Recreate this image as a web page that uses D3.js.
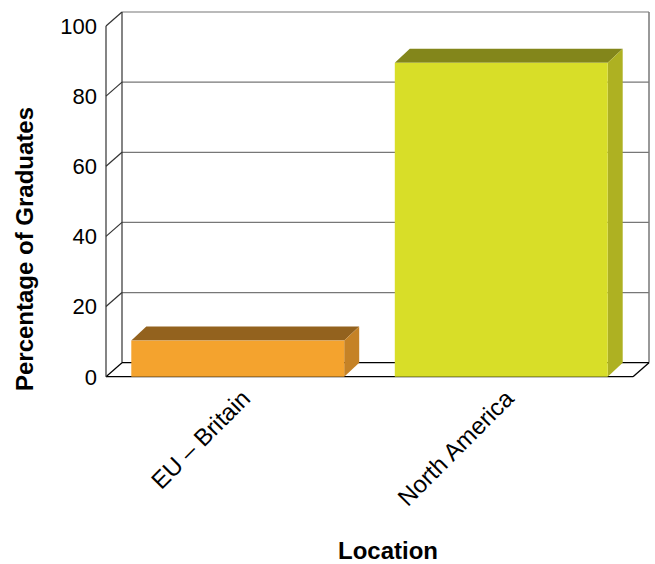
<!DOCTYPE html>
<html><head><meta charset="utf-8">
<script src="https://cdn.jsdelivr.net/npm/d3@7"></script>
<style>body{margin:0;background:#fff}svg{display:block}text{font-family:"Liberation Sans",Arial,sans-serif}</style>
</head><body>
<svg id="c" width="655" height="564"></svg>
<script>
const categories = ["EU \u2013 Britain", "North America"];
const values = [10.3, 89.5];
const yTicks = [0, 20, 40, 60, 80, 100];
const frontColors = ["#F4A32E", "#D8DE28"];
const topColors = ["#93621E", "#83861B"];
const sideColors = ["#C58226", "#AEB122"];
const yTitle = "Percentage of Graduates";
const xTitle = "Location";

(function () {
const svg = d3.select("#c");
const pLeft = 106, pRight = 633, pBottom = 376.7, pTop = 26;
const dx = 16, dy = -14;     // wall depth
const bdx = 15, bdy = -14;   // bar depth
const x = d3.scaleBand().domain(categories).range([pLeft, pRight]).paddingInner(0.192).paddingOuter(0.096);
const y = d3.scaleLinear().domain([0, 100]).range([pBottom, pTop]);

const g = svg.append("g");
yTicks.forEach(t => {
  if (t === 0) return;
  g.append("line").attr("x1", pLeft + dx).attr("x2", pRight + dx)
    .attr("y1", y(t) + dy).attr("y2", y(t) + dy)
    .attr("stroke", "#777").attr("stroke-width", 1.2);
});
g.append("line").attr("x1", pLeft + dx).attr("x2", pLeft + dx).attr("y1", y(0) + dy).attr("y2", y(100) + dy).attr("stroke", "#333").attr("stroke-width", 1.2);
g.append("line").attr("x1", pRight + dx).attr("x2", pRight + dx).attr("y1", y(0) + dy).attr("y2", y(100) + dy).attr("stroke", "#777").attr("stroke-width", 1.5);
yTicks.forEach(t => {
  g.append("line").attr("x1", pLeft).attr("x2", pLeft + dx)
    .attr("y1", y(t)).attr("y2", y(t) + dy)
    .attr("stroke", t === 0 ? "#000" : "#333").attr("stroke-width", 1.2);
});
g.append("line").attr("x1", pLeft + dx).attr("x2", pRight + dx).attr("y1", y(0) + dy).attr("y2", y(0) + dy).attr("stroke", "#000").attr("stroke-width", 1.3);
g.append("line").attr("x1", pLeft).attr("x2", pRight).attr("y1", y(0)).attr("y2", y(0)).attr("stroke", "#000").attr("stroke-width", 1.3);
g.append("line").attr("x1", pRight).attr("x2", pRight + dx).attr("y1", y(0)).attr("y2", y(0) + dy).attr("stroke", "#000").attr("stroke-width", 1.3);
g.append("line").attr("x1", pLeft).attr("x2", pLeft).attr("y1", y(0)).attr("y2", y(100)).attr("stroke", "#333").attr("stroke-width", 1.2);

const bars = g.selectAll("g.bar").data(categories.map((c, i) => ({c, v: values[i], i}))).join("g").attr("class", "bar");
bars.append("path").attr("fill", d => topColors[d.i]).attr("d", d => {
  const x0 = x(d.c), x1 = x0 + x.bandwidth(), yt = y(d.v);
  return `M${x0},${yt}L${x0 + bdx},${yt + bdy}L${x1 + bdx},${yt + bdy}L${x1},${yt}Z`;
});
bars.append("path").attr("fill", d => sideColors[d.i]).attr("d", d => {
  const x1 = x(d.c) + x.bandwidth(), yt = y(d.v), yb = y(0);
  return `M${x1},${yt}L${x1 + bdx},${yt + bdy}L${x1 + bdx},${yb + bdy}L${x1},${yb}Z`;
});
bars.append("rect").attr("fill", d => frontColors[d.i])
  .attr("x", d => x(d.c)).attr("width", x.bandwidth())
  .attr("y", d => y(d.v)).attr("height", d => y(0) - y(d.v));

g.selectAll("text.yt").data(yTicks).join("text").attr("class", "yt")
  .attr("x", pLeft - 9).attr("y", d => y(d)).attr("dy", "0.36em")
  .attr("text-anchor", "end").attr("font-size", 22).attr("fill", "#000").text(d => d);

g.selectAll("text.xt").data(categories).join("text").attr("class", "xt")
  .attr("text-anchor", "end").attr("font-size", 24).attr("fill", "#000")
  .attr("transform", d => `translate(${x(d) + x.bandwidth() / 2 + 14},${400}) rotate(-45)`)
  .text(d => d);

svg.append("text").attr("text-anchor", "middle").attr("font-weight", "bold").attr("font-size", 24)
  .attr("transform", "translate(33,249) rotate(-90)").text(yTitle);
svg.append("text").attr("text-anchor", "middle").attr("font-weight", "bold").attr("font-size", 24)
  .attr("x", 388).attr("y", 559).text(xTitle);
})();
</script>
</body></html>
